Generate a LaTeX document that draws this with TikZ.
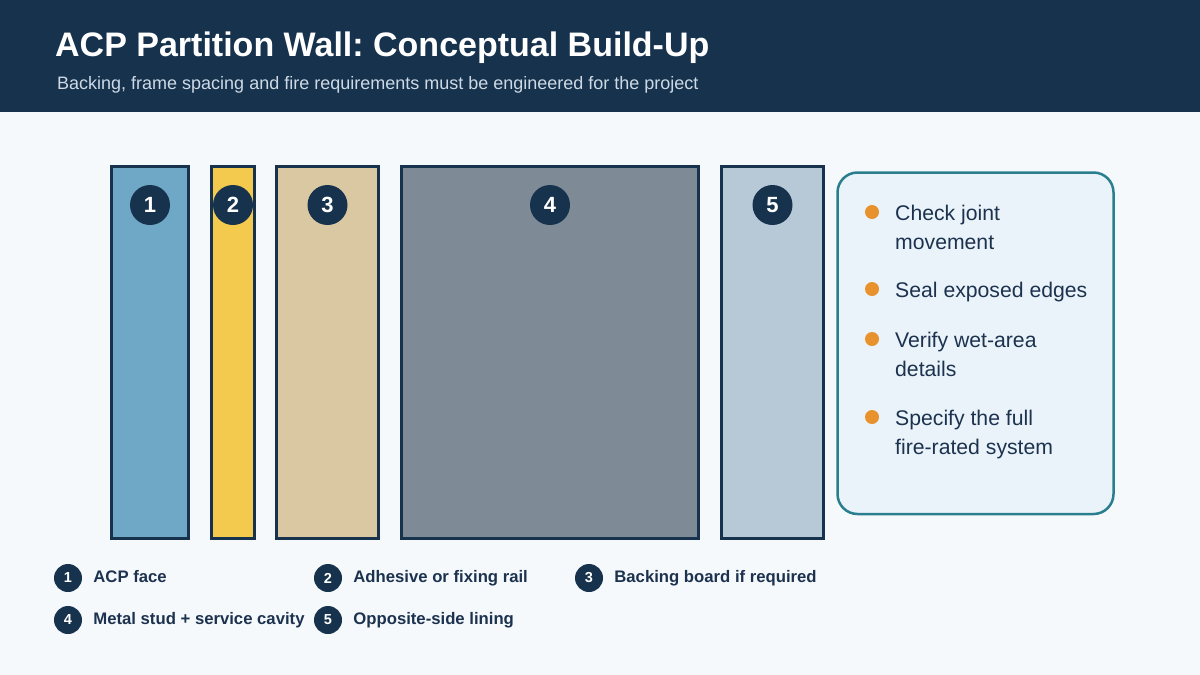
\documentclass[tikz,border=0pt]{standalone}
\usepackage{fontspec}
\setmainfont{Liberation Sans}
\usepackage{xcolor}
\usetikzlibrary{positioning}
\frenchspacing
\definecolor{headcol}{RGB}{23,50,77}
\definecolor{subcol}{RGB}{205,218,230}
\definecolor{bgcol}{RGB}{245,249,252}
\definecolor{txtcol}{RGB}{28,50,78}
\definecolor{acpcol}{RGB}{111,168,198}
\definecolor{gluecol}{RGB}{243,201,78}
\definecolor{boardcol}{RGB}{217,200,162}
\definecolor{studcol}{RGB}{126,139,151}
\definecolor{liningcol}{RGB}{183,201,215}
\definecolor{notecol}{RGB}{234,243,249}
\definecolor{tealcol}{RGB}{42,127,142}
\definecolor{dotcol}{RGB}{232,146,46}

\begin{document}
\begin{tikzpicture}[x=1pt, y=-1pt,
  badge/.style={circle, fill=headcol, text=white, inner sep=0pt,
    minimum size=40pt, font=\bfseries\fontsize{22}{22}\selectfont},
  keybadge/.style={badge, minimum size=28pt,
    font=\bfseries\fontsize{14.5}{14.5}\selectfont},
  keytext/.style={inner sep=0pt, text=txtcol, text height=11.5pt,
    text depth=3.5pt, font=\bfseries\fontsize{16.7}{16.7}\selectfont},
  bulletdot/.style={circle, fill=dotcol, inner sep=0pt, minimum size=14pt},
  notetext/.style={anchor=north west, inner sep=0pt, align=left,
    text=txtcol, font=\fontsize{21.2}{29}\selectfont}]
\useasboundingbox (0,0) rectangle (1200,675);
% Page and header
\fill[bgcol] (0,0) rectangle (1200,675);
\fill[headcol] (0,0) rectangle (1200,112);
\node[anchor=base west, inner sep=0pt, text=white,
  font=\bfseries\fontsize{34}{34}\selectfont] (title) at (55,56)
  {ACP Partition Wall: Conceptual Build-Up};
\node[anchor=base west, inner sep=0pt, text=subcol,
  font=\fontsize{18}{18}\selectfont] (subtitle) at (57,89)
  {Backing, frame spacing and fire requirements must be engineered for the project};
% Layers -- [no, left, right, fill]
\foreach \n/\xa/\xb/\col in {1/111.5/188.5/acpcol, 2/211.5/254.5/gluecol,
    3/276.5/378.5/boardcol, 4/401.5/698.5/studcol, 5/721.5/823.5/liningcol} {
  \draw[line width=3pt, headcol, fill=\col] (\xa,166.5) rectangle (\xb,538.5);
  \node[badge] (b\n) at ({(\xa+\xb)/2},205) {\n};
}
% Notes panel
\draw[line width=2.5pt, tealcol, fill=notecol, rounded corners=20pt]
  (837.5,172.5) rectangle (1113.5,514);
\foreach \i/\y/\txt in {1/212/{Check joint\\movement},
    2/289/{Seal exposed edges},
    3/339/{Verify wet-area\\details},
    4/417/{Specify the full\\fire-rated system}} {
  \node[bulletdot] (d\i) at (872,\y) {};
  \node[notetext] (n\i) at (895,\y-7) {\txt};
}
% Key
\foreach \n/\x/\y/\txt in {1/68/578/ACP face, 2/328/578/Adhesive or fixing rail,
    3/589/578/Backing board if required, 4/68/620/Metal stud + service cavity,
    5/328/620/Opposite-side lining} {
  \node[keybadge] (k\n) at (\x,\y) {\n};
  \node[keytext, right=11pt of k\n] (t\n) {\txt};
}
\end{tikzpicture}
\end{document}
